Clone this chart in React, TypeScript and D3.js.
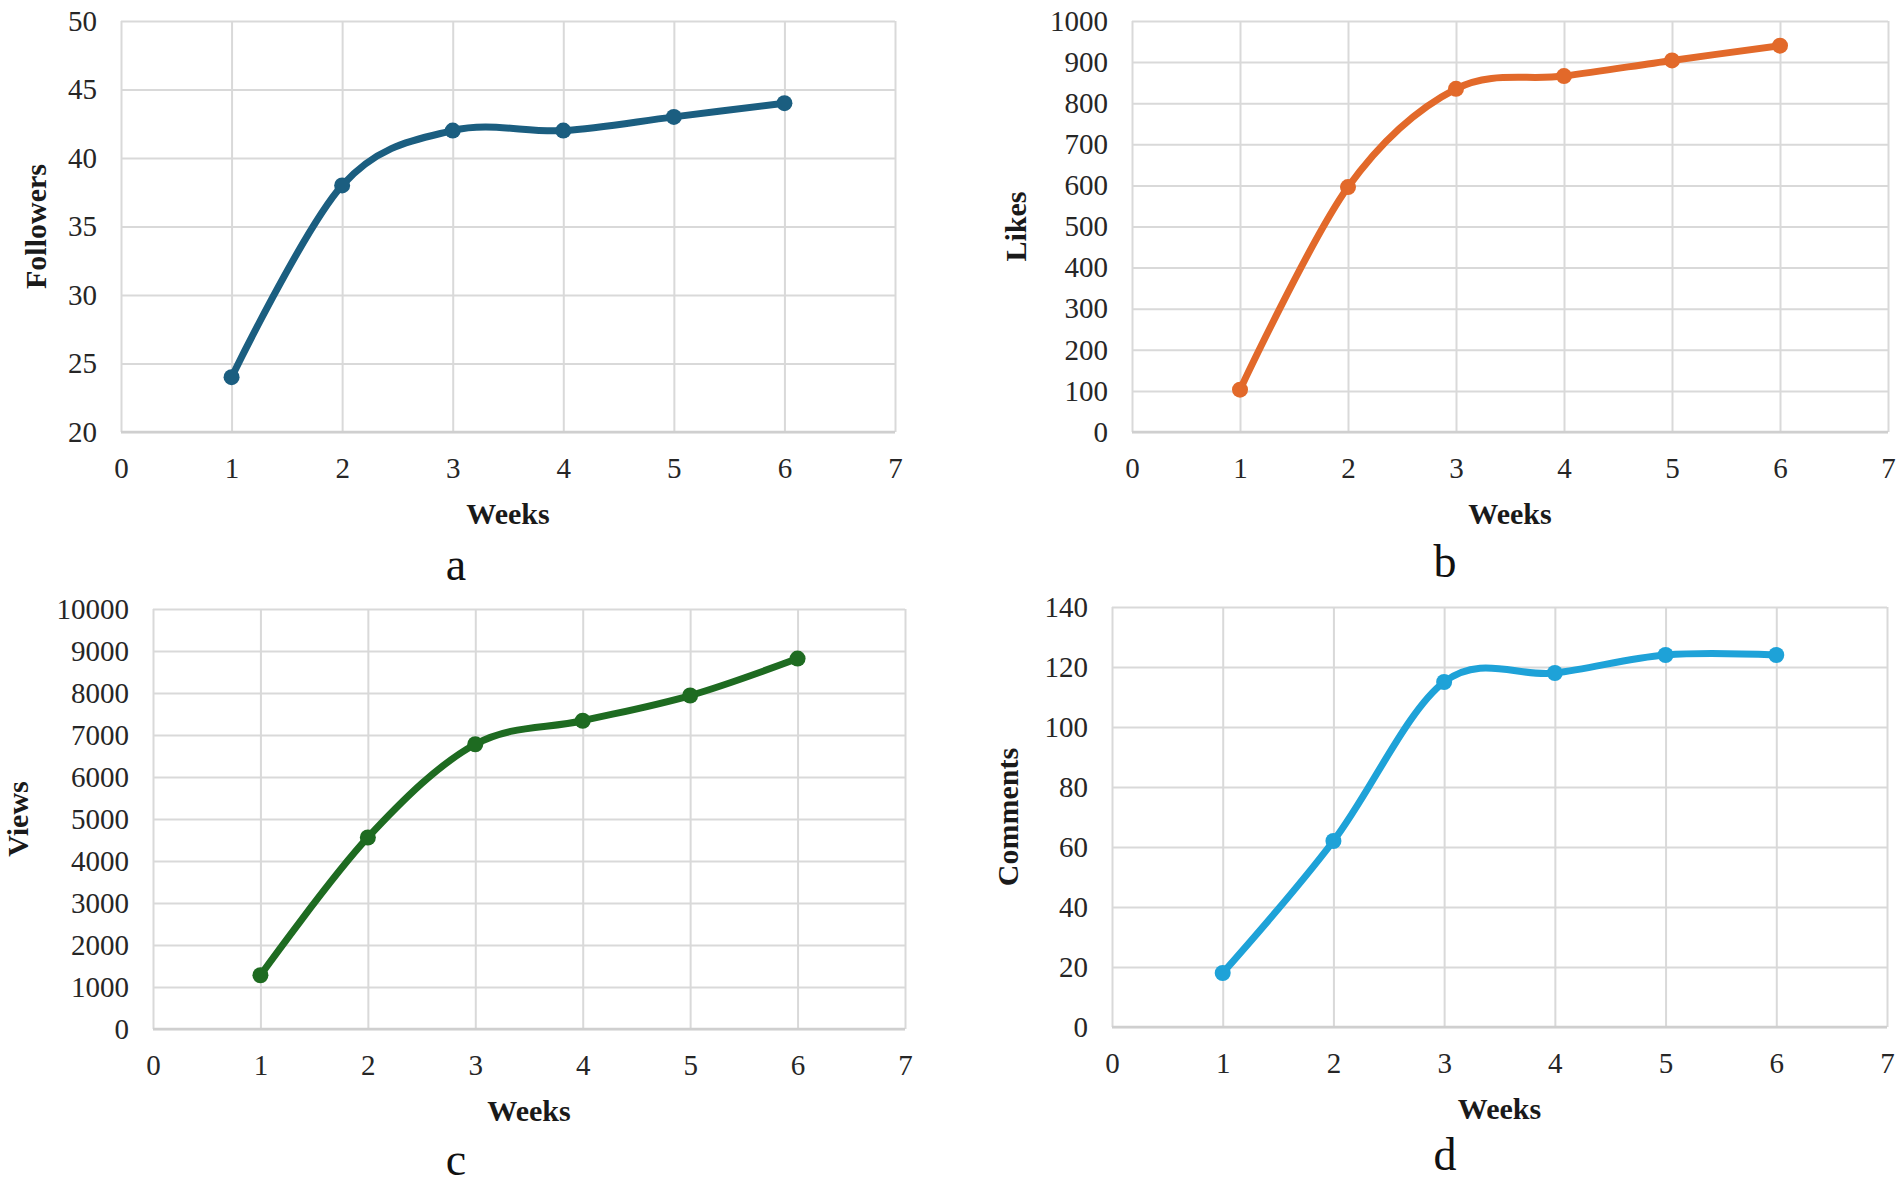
import React, { useRef, useEffect } from 'react';
import * as d3 from 'd3';

// weeks on the x axis
const weeks = [1, 2, 3, 4, 5, 6];
const weekTicks = [0, 1, 2, 3, 4, 5, 6, 7];

// series
const followers = [24, 38, 42, 42, 43, 44];
const likes = [103, 596, 835, 866, 904, 940];
const views = [1280, 4560, 6780, 7340, 7940, 8820];
const comments = [18, 62, 115, 118, 124, 124];

// y tick values per panel
const followerTicks = [20, 25, 30, 35, 40, 45, 50];
const likeTicks = [0, 100, 200, 300, 400, 500, 600, 700, 800, 900, 1000];
const viewTicks = [0, 1000, 2000, 3000, 4000, 5000, 6000, 7000, 8000, 9000, 10000];
const commentTicks = [0, 20, 40, 60, 80, 100, 120, 140];

const panels = [
  { id: 'a', label: 'Followers', values: followers, ticks: followerTicks, color: '#1b5e80',
    left: 121, right: 895, top: 21, bottom: 432, yLabelX: 36, letterX: 456, letterY: 580 },
  { id: 'b', label: 'Likes', values: likes, ticks: likeTicks, color: '#e2692a',
    left: 1132, right: 1888, top: 21, bottom: 432, yLabelX: 1016, letterX: 1445, letterY: 577 },
  { id: 'c', label: 'Views', values: views, ticks: viewTicks, color: '#1e6b21',
    left: 153, right: 905, top: 609, bottom: 1029, yLabelX: 18, letterX: 456, letterY: 1175 },
  { id: 'd', label: 'Comments', values: comments, ticks: commentTicks, color: '#1ea2d8',
    left: 1112, right: 1887, top: 607, bottom: 1027, yLabelX: 1008, letterX: 1445, letterY: 1170 },
];

const FONT = '"Liberation Serif", "Times New Roman", serif';

const App = () => {
  const svgRef = useRef(null);

  useEffect(() => {
    document.body.style.margin = '0';
    const svg = d3.select(svgRef.current);
    svg.selectAll('*').remove();

    panels.forEach(p => {
      const x = d3.scaleLinear().domain([0, 7]).range([p.left, p.right]);
      const y = d3.scaleLinear()
        .domain([p.ticks[0], p.ticks[p.ticks.length - 1]])
        .range([p.bottom, p.top]);

      const g = svg.append('g');

      // horizontal grid
      g.append('g')
        .attr('transform', `translate(${p.left},0)`)
        .call(d3.axisLeft(y).tickValues(p.ticks).tickSize(-(p.right - p.left)).tickFormat(() => ''))
        .call(ax => ax.select('.domain').remove())
        .call(ax => ax.selectAll('line').attr('stroke', '#d9d9d9').attr('stroke-width', 2));

      // vertical grid
      g.append('g')
        .attr('transform', `translate(0,${p.bottom})`)
        .call(d3.axisBottom(x).tickValues(weekTicks).tickSize(-(p.bottom - p.top)).tickFormat(() => ''))
        .call(ax => ax.select('.domain').remove())
        .call(ax => ax.selectAll('line').attr('stroke', '#d9d9d9').attr('stroke-width', 2));

      // bottom axis line
      g.append('line')
        .attr('x1', p.left).attr('x2', p.right)
        .attr('y1', p.bottom).attr('y2', p.bottom)
        .attr('stroke', '#cfcfcf').attr('stroke-width', 2.5);

      // y tick labels
      g.append('g')
        .attr('transform', `translate(${p.left},0)`)
        .call(d3.axisLeft(y).tickValues(p.ticks).tickSize(0).tickPadding(24).tickFormat(d3.format('d')))
        .call(ax => ax.select('.domain').remove())
        .call(ax => ax.selectAll('text')
          .attr('font-family', FONT).attr('font-size', 29).attr('fill', '#262626'));

      // x tick labels
      g.append('g')
        .attr('transform', `translate(0,${p.bottom})`)
        .call(d3.axisBottom(x).tickValues(weekTicks).tickSize(0).tickPadding(25).tickFormat(d3.format('d')))
        .call(ax => ax.select('.domain').remove())
        .call(ax => ax.selectAll('text')
          .attr('font-family', FONT).attr('font-size', 29).attr('fill', '#262626'));

      // axis titles
      g.append('text')
        .attr('x', (p.left + p.right) / 2)
        .attr('y', p.bottom + 92)
        .attr('text-anchor', 'middle')
        .attr('font-family', FONT).attr('font-weight', 'bold').attr('font-size', 30)
        .attr('fill', '#1a1a1a')
        .text('Weeks');

      g.append('text')
        .attr('transform', `translate(${p.yLabelX + 10},${(p.top + p.bottom) / 2}) rotate(-90)`)
        .attr('text-anchor', 'middle')
        .attr('font-family', FONT).attr('font-weight', 'bold').attr('font-size', 30)
        .attr('fill', '#1a1a1a')
        .text(p.label);

      // panel letter
      g.append('text')
        .attr('x', p.letterX).attr('y', p.letterY)
        .attr('text-anchor', 'middle')
        .attr('font-family', FONT).attr('font-size', 46)
        .attr('fill', '#111')
        .text(p.id);

      // smoothed line
      const line = d3.line()
        .x((d, i) => x(weeks[i]))
        .y(d => y(d))
        .curve(d3.curveCatmullRom.alpha(0));

      g.append('path')
        .datum(p.values)
        .attr('d', line)
        .attr('fill', 'none')
        .attr('stroke', p.color)
        .attr('stroke-width', 7)
        .attr('stroke-linecap', 'round');

      g.selectAll('.dot')
        .data(p.values)
        .enter().append('circle')
        .attr('cx', (d, i) => x(weeks[i]))
        .attr('cy', d => y(d))
        .attr('r', 8)
        .attr('fill', p.color);
    });
  }, []);

  return (
    <div style={{ width: '1902px', height: '1185px', background: '#fff' }}>
      <svg ref={svgRef} width={1902} height={1185}></svg>
    </div>
  );
};

export default App;
